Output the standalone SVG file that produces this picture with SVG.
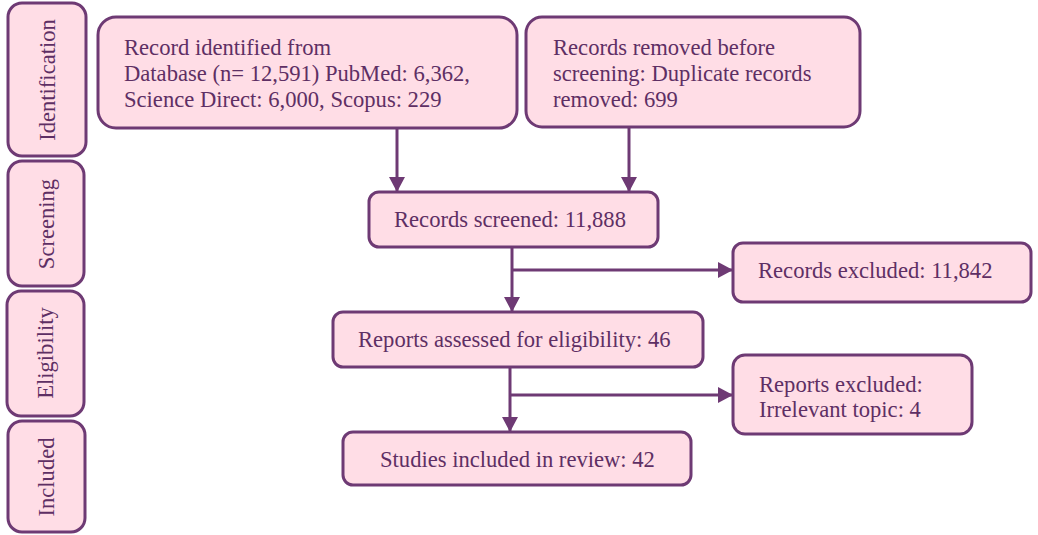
<svg xmlns="http://www.w3.org/2000/svg" width="1038" height="535" viewBox="0 0 1038 535">
<defs>
<style>
.box{fill:#FFDDE6;stroke:#6E3A74;stroke-width:3}
.t{font-family:"Liberation Serif","Times New Roman",serif;font-size:22.6px;fill:#5E2F64}
.side{font-family:"Liberation Serif","Times New Roman",serif;font-size:22.6px;fill:#5E2F64;text-anchor:middle;dominant-baseline:central}
.ln{stroke:#6E3A74;stroke-width:3;fill:none}
</style>
<marker id="ah" viewBox="0 0 15 16" markerWidth="15" markerHeight="16" refX="15" refY="8" orient="auto" markerUnits="userSpaceOnUse">
<path d="M0,0 L15,8 L0,16 Z" fill="#6E3A74"/>
</marker>
</defs>
<rect width="1038" height="535" fill="#FFFFFF"/>

<g id="tab-identification">
<rect class="box" x="8" y="3" width="78" height="153" rx="14"/>
<text class="side" transform="translate(47,80) rotate(-90)">Identification</text>
</g>
<g id="tab-screening">
<rect class="box" x="8" y="161" width="76" height="125" rx="14"/>
<text class="side" transform="translate(46,224) rotate(-90)">Screening</text>
</g>
<g id="tab-eligibility">
<rect class="box" x="7" y="291" width="77" height="125" rx="14"/>
<text class="side" transform="translate(45,353) rotate(-90)">Eligibility</text>
</g>
<g id="tab-included">
<rect class="box" x="8" y="421" width="77" height="111" rx="14"/>
<text class="side" transform="translate(46,477) rotate(-90)">Included</text>
</g>

<g id="connectors">
<line class="ln" x1="397" y1="128" x2="397" y2="192" marker-end="url(#ah)"/>
<line class="ln" x1="629" y1="127" x2="629" y2="192" marker-end="url(#ah)"/>
<line class="ln" x1="512" y1="247" x2="512" y2="312" marker-end="url(#ah)"/>
<line class="ln" x1="512" y1="270" x2="733" y2="270" marker-end="url(#ah)"/>
<line class="ln" x1="510" y1="367" x2="510" y2="432" marker-end="url(#ah)"/>
<line class="ln" x1="510" y1="395" x2="733" y2="395" marker-end="url(#ah)"/>
</g>

<g id="identified">
<rect class="box" x="98" y="17" width="419" height="111" rx="18"/>
<text class="t" x="124" y="55">Record identified from</text>
<text class="t" x="124" y="81">Database (n= 12,591) PubMed: 6,362,</text>
<text class="t" x="124" y="107">Science Direct: 6,000, Scopus: 229</text>
</g>

<g id="removed">
<rect class="box" x="526" y="17" width="334" height="110" rx="16"/>
<text class="t" x="553" y="55">Records removed before</text>
<text class="t" x="553" y="81">screening: Duplicate records</text>
<text class="t" x="553" y="107">removed: 699</text>
</g>

<g id="screened">
<rect class="box" x="369" y="192" width="289" height="55" rx="10"/>
<text class="t" x="394" y="227">Records screened: 11,888</text>
</g>

<g id="records-excluded">
<rect class="box" x="733" y="243" width="298" height="59" rx="10"/>
<text class="t" x="758" y="278">Records excluded: 11,842</text>
</g>

<g id="assessed">
<rect class="box" x="333" y="312" width="370" height="55" rx="10"/>
<text class="t" x="358" y="347">Reports assessed for eligibility: 46</text>
</g>

<g id="reports-excluded">
<rect class="box" x="733" y="355" width="239" height="79" rx="12"/>
<text class="t" x="759" y="392">Reports excluded:</text>
<text class="t" x="759" y="417">Irrelevant topic: 4</text>
</g>

<g id="included">
<rect class="box" x="343" y="432" width="348" height="53" rx="10"/>
<text class="t" x="380" y="467">Studies included in review: 42</text>
</g>
</svg>
